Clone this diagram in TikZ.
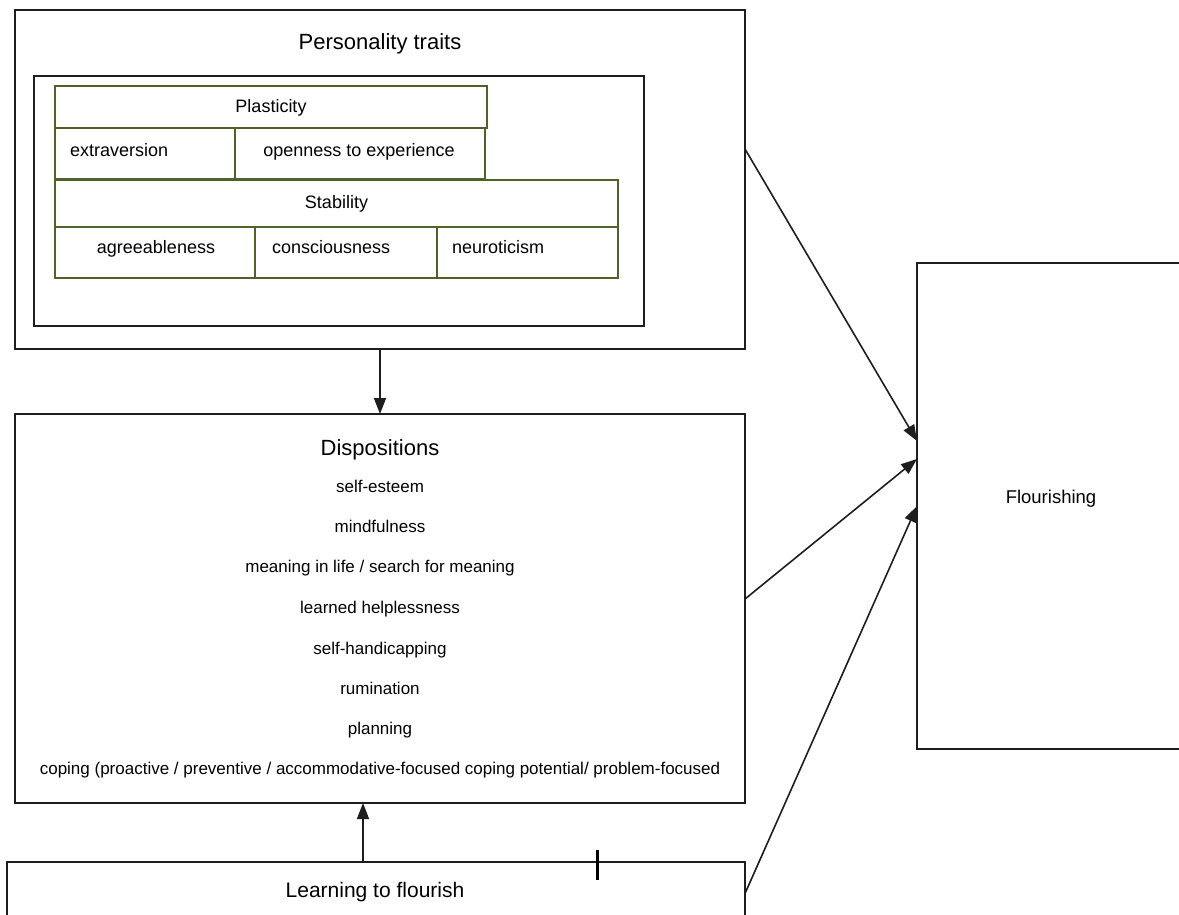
\documentclass[tikz,border=0pt]{standalone}
\usepackage{fontspec}
\setmainfont{Liberation Sans}
\usetikzlibrary{arrows.meta}
\definecolor{cellgreen}{RGB}{79,98,40}
\definecolor{boxline}{RGB}{30,30,30}
\begin{document}
\begin{tikzpicture}[x=1pt,y=-1pt,
  box/.style={draw=boxline, line width=1.8pt, inner sep=0pt, outer sep=0pt},
  cellbox/.style={draw=cellgreen, line width=1.6pt, inner sep=0pt, outer sep=0pt},
  conn/.style={draw=boxline, line width=1.6pt, -{Triangle[length=16pt,width=12pt]}},
  ttl/.style={font=\fontsize{22}{26}\selectfont, anchor=base, inner sep=0pt},
  item/.style={font=\fontsize{17}{20}\selectfont, anchor=base, inner sep=0pt},
  celltxt/.style={font=\fontsize{18}{21}\selectfont, anchor=base, inner sep=0pt},
  celltxtl/.style={font=\fontsize{18}{21}\selectfont, anchor=base west, inner sep=0pt},
]
\useasboundingbox (0,0) rectangle (1179,915);
\clip (0,0) rectangle (1179,915);
\fill[white] (0,0) rectangle (1179,915);

% main boxes
\node[box, minimum width=730pt, minimum height=339pt] (pers) at (380,179.5) {};
\node[box, minimum width=610pt, minimum height=250pt] (inner) at (339,201) {};
\node[box, minimum width=730pt, minimum height=389pt] (disp) at (380,608.5) {};
\node[box, minimum width=738pt, minimum height=63pt] (learn) at (376,893.5) {};
\node[box, minimum width=273pt, minimum height=486pt] (flour) at (1053.5,506) {};

% table cells
\node[cellbox, minimum width=432pt, minimum height=42pt] (plas) at (271,107) {};
\node[cellbox, minimum width=180pt, minimum height=51pt] (extra) at (145,153.5) {};
\node[cellbox, minimum width=250pt, minimum height=51pt] (open) at (360,153.5) {};
\node[cellbox, minimum width=563pt, minimum height=47pt] (stab) at (336.5,203.5) {};
\node[cellbox, minimum width=200pt, minimum height=51pt] (agree) at (155,252.5) {};
\node[cellbox, minimum width=182pt, minimum height=51pt] (consc) at (346,252.5) {};
\node[cellbox, minimum width=181pt, minimum height=51pt] (neuro) at (527.5,252.5) {};

% titles
\node[ttl] (tpers) at (380,50) {Personality traits};
\node[ttl] (tdisp) at (380,455) {Dispositions};
\node[font=\fontsize{21}{25}\selectfont, anchor=base, inner sep=0pt] (tlearn) at (375,897) {Learning to flourish};
\node[font=\fontsize{18.5}{22}\selectfont, anchor=base, inner sep=0pt] (tflour) at (1051,503) {Flourishing};

% table texts
\node[celltxt] (tplas) at (271,113) {Plasticity};
\node[celltxtl] (textra) at (70,157) {extraversion};
\node[celltxt] (topen) at (359,157) {openness to experience};
\node[celltxt] (tstab) at (336.5,208) {Stability};
\node[celltxt] (tagree) at (156,254) {agreeableness};
\node[celltxtl] (tconsc) at (272,254) {consciousness};
\node[celltxtl] (tneuro) at (452,254) {neuroticism};

% disposition items
\node[item] (d1) at (380,492) {self-esteem};
\node[item] (d2) at (380,532) {mindfulness};
\node[item] (d3) at (380,572) {meaning in life / search for meaning};
\node[item] (d4) at (380,613) {learned helplessness};
\node[item] (d5) at (380,654) {self-handicapping};
\node[item] (d6) at (380,694) {rumination};
\node[item] (d7) at (380,734) {planning};
\node[item] (d8) at (380,774) {coping (proactive / preventive / accommodative-focused coping potential/ problem-focused};

% cursor tick
\draw[line width=3pt, black] (597,850) -- (597,880);

% connectors
\draw[conn] (pers.south) -- (disp.north);
\draw[conn] ([xshift=-13pt]learn.north) -- ([xshift=-13pt]learn.north |- disp.south);
\draw[conn] ([yshift=30.5pt]pers.east) -- ([yshift=65pt]flour.west);
\draw[conn] ([yshift=9.5pt]disp.east) -- ([yshift=47pt]flour.west);
\draw[conn] (learn.east) -- (flour.west);
\end{tikzpicture}
\end{document}
